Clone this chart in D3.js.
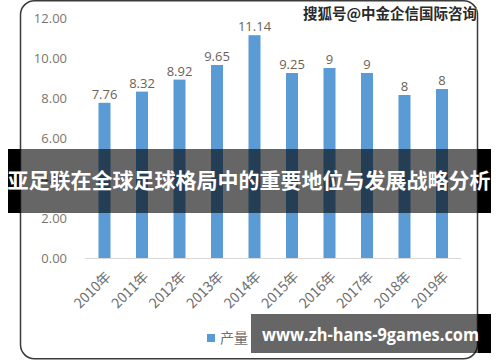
<!DOCTYPE html>
<html>
<head>
<meta charset="utf-8">
<script src="https://cdn.jsdelivr.net/npm/d3@7"></script>
<style>
  body { margin: 0; background: #fff; }
  svg { display: block; }
</style>
</head>
<body>
<div id="chart"></div>
<script>
// data
const years = ["2010年", "2011年", "2012年", "2013年", "2014年", "2015年", "2016年", "2017年", "2018年", "2019年"];
const values = [7.76, 8.32, 8.92, 9.65, 11.14, 9.25, 9.5, 9.25, 8.15, 8.45];
const valueLabels = ["7.76", "8.32", "8.92", "9.65", "11.14", "9.25", "9", "9", "8", "8"];
const yTicks = [0, 2, 4, 6, 8, 10, 12];
const seriesName = "产量";
const watermark = "搜狐号@中金企信国际咨询";
const bannerTitle = "亚足联在全球足球格局中的重要地位与发展战略分析";
const siteText = "www.zh-hans-9games.com";

const width = 500, height = 362;
const barColor = "#5b9bd5";
const textFont = "'Open Sans', 'Liberation Sans', sans-serif";
const cjkFont = "'Noto Sans CJK SC', sans-serif";

const svg = d3.select("#chart").append("svg")
    .attr("width", width)
    .attr("height", height);

// chart frame with rounded corners
svg.append("rect")
    .attr("x", 20.5).attr("y", 0.75)
    .attr("width", 457).attr("height", 358)
    .attr("rx", 14).attr("ry", 14)
    .attr("fill", "#fff")
    .attr("stroke", "#3a3a3a")
    .attr("stroke-width", 1.5);

const x = d3.scaleBand()
    .domain(years)
    .range([85.75, 460.75])
    .paddingInner(0.68)
    .paddingOuter(0.34);

const y = d3.scaleLinear()
    .domain([0, 12])
    .range([258, 18]);

// y axis labels only (no line)
const yAxis = svg.append("g")
    .attr("transform", "translate(67,0)")
    .call(d3.axisLeft(y).tickValues(yTicks).tickSize(0).tickPadding(0).tickFormat(d3.format(".2f")));
yAxis.select(".domain").remove();
yAxis.selectAll("text")
    .attr("font-family", textFont)
    .attr("font-size", 13)
    .attr("fill", "#7d746c");

// baseline
svg.append("line")
    .attr("x1", 85).attr("x2", 461)
    .attr("y1", y(0) + 0.5).attr("y2", y(0) + 0.5)
    .attr("stroke", "#d9d9d9");

// bars
svg.append("g").selectAll("rect")
    .data(values)
    .join("rect")
    .attr("x", (d, i) => x(years[i]))
    .attr("y", d => y(d))
    .attr("width", x.bandwidth())
    .attr("height", d => y(0) - y(d))
    .attr("fill", barColor);

// value labels
svg.append("g").selectAll("text")
    .data(values)
    .join("text")
    .attr("x", (d, i) => x(years[i]) + x.bandwidth() / 2)
    .attr("y", d => y(d) - 4)
    .attr("text-anchor", "middle")
    .attr("font-family", textFont)
    .attr("font-size", 13)
    .attr("fill", "#6b625a")
    .text((d, i) => valueLabels[i]);

// x axis labels, rotated
const xAxis = svg.append("g")
    .attr("transform", `translate(0,${y(0)})`)
    .call(d3.axisBottom(x).tickSize(0).tickPadding(0));
xAxis.select(".domain").remove();
xAxis.selectAll("text")
    .attr("font-family", cjkFont)
    .attr("font-size", 14)
    .attr("fill", "#6f6f6f")
    .attr("text-anchor", "end")
    .attr("dy", "0.35em")
    .attr("transform", "translate(4,16) rotate(-45)");

// legend
const legend = svg.append("g").attr("transform", "translate(207,334)");
legend.append("rect")
    .attr("width", 8).attr("height", 8)
    .attr("fill", barColor);
legend.append("text")
    .attr("x", 13).attr("y", 4)
    .attr("dy", "0.35em")
    .attr("font-family", cjkFont)
    .attr("font-size", 14)
    .attr("fill", "#6f6f6f")
    .text(seriesName);

// watermark at top right
svg.append("text")
    .attr("x", 303).attr("y", 14)
    .attr("dy", "0.35em")
    .attr("font-family", cjkFont)
    .attr("font-size", 14.5)
    .attr("font-weight", "bold")
    .attr("fill", "#2a2a2a")
    .attr("stroke", "#fff")
    .attr("stroke-width", 0.6)
    .attr("paint-order", "stroke")
    .text(watermark);

// title banner over the chart
const banner = svg.append("g");
banner.append("rect")
    .attr("x", 8).attr("y", 149)
    .attr("width", 12).attr("height", 64)
    .attr("fill", "#000");
banner.append("rect")
    .attr("x", 20).attr("y", 149)
    .attr("width", 458).attr("height", 64)
    .attr("fill", "rgba(0,0,0,0.6)");
banner.append("rect")
    .attr("x", 478).attr("y", 149)
    .attr("width", 13).attr("height", 64)
    .attr("fill", "#000");
banner.append("text")
    .attr("x", 249).attr("y", 181)
    .attr("dy", "0.35em")
    .attr("text-anchor", "middle")
    .attr("font-family", cjkFont)
    .attr("font-size", 21)
    .attr("font-weight", "bold")
    .attr("fill", "#fff")
    .text(bannerTitle);

// site box bottom right
const site = svg.append("g");
site.append("rect")
    .attr("x", 251).attr("y", 314)
    .attr("width", 227).attr("height", 39)
    .attr("fill", "rgba(0,0,0,0.6)");
site.append("rect")
    .attr("x", 478).attr("y", 314)
    .attr("width", 13).attr("height", 39)
    .attr("fill", "#000");
site.append("text")
    .attr("x", 262).attr("y", 335)
    .attr("dy", "0.35em")
    .attr("font-family", textFont)
    .attr("font-size", 17)
    .attr("font-weight", "bold")
    .attr("fill", "#fff")
    .attr("textLength", 217)
    .attr("lengthAdjust", "spacingAndGlyphs")
    .text(siteText);
</script>
</body>
</html>
